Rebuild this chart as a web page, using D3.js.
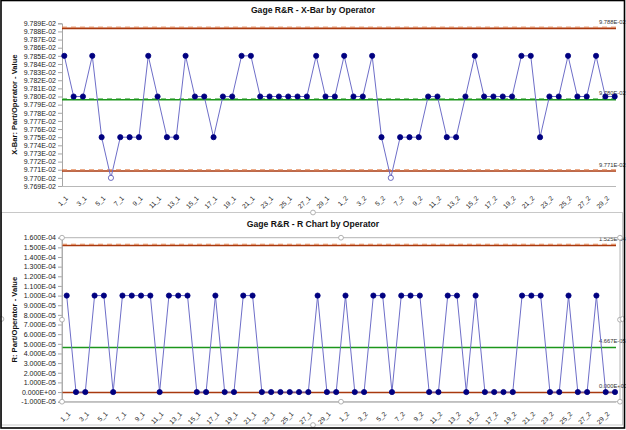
<!DOCTYPE html>
<html>
<head>
<meta charset="utf-8">
<script src="https://cdn.jsdelivr.net/npm/d3@7"></script>
<style>
  body { margin: 0; background: #fff; }
  text { font-family: "Liberation Sans", Arial, sans-serif; }
</style>
</head>
<body>
<div id="chart"></div>
<script>
// part_operator categories
var categories = [
  "1_1","2_1","3_1","4_1","5_1","6_1","7_1","8_1","9_1","10_1",
  "11_1","12_1","13_1","14_1","15_1","16_1","17_1","18_1","19_1","20_1",
  "21_1","22_1","23_1","24_1","25_1","26_1","27_1","28_1","29_1","30_1",
  "1_2","2_2","3_2","4_2","5_2","6_2","7_2","8_2","9_2","10_2",
  "11_2","12_2","13_2","14_2","15_2","16_2","17_2","18_2","19_2","20_2",
  "21_2","22_2","23_2","24_2","25_2","26_2","27_2","28_2","29_2","30_2"
];

// x-bar per part/operator
var xbarValues = [
  0.09785,0.09780,0.09780,0.09785,0.09775,0.09770,0.09775,0.09775,0.09775,0.09785,
  0.09780,0.09775,0.09775,0.09785,0.09780,0.09780,0.09775,0.09780,0.09780,0.09785,
  0.09785,0.09780,0.09780,0.09780,0.09780,0.09780,0.09780,0.09785,0.09780,0.09780,
  0.09785,0.09780,0.09780,0.09785,0.09775,0.09770,0.09775,0.09775,0.09775,0.09780,
  0.09780,0.09775,0.09775,0.09780,0.09785,0.09780,0.09780,0.09780,0.09780,0.09785,
  0.09785,0.09775,0.09780,0.09780,0.09785,0.09780,0.09780,0.09785,0.09780,0.09780
];

// range per part/operator
var rangeValues = [
  0.0001,0,0,0.0001,0.0001,0,0.0001,0.0001,0.0001,0.0001,
  0,0.0001,0.0001,0.0001,0,0,0.0001,0,0,0.0001,
  0.0001,0,0,0,0,0,0,0.0001,0,0,
  0.0001,0,0,0.0001,0.0001,0,0.0001,0.0001,0.0001,0,
  0,0.0001,0.0001,0,0.0001,0,0,0,0,0.0001,
  0.0001,0.0001,0,0,0.0001,0,0,0.0001,0,0
];

// control limits [UCL, CL, LCL]
var xbarLimits = [0.0978844, 0.0977967, 0.0977090];
var rangeLimits = [0.00015247, 0.00004667, 0];

var xbarTicks = [0.09769,0.09770,0.09771,0.09772,0.09773,0.09774,0.09775,0.09776,0.09777,
  0.09778,0.09779,0.09780,0.09781,0.09782,0.09783,0.09784,0.09785,0.09786,0.09787,0.09788,0.09789];
var rangeTicks = [-0.00001,0,0.00001,0.00002,0.00003,0.00004,0.00005,0.00006,0.00007,0.00008,
  0.00009,0.0001,0.00011,0.00012,0.00013,0.00014,0.00015,0.00016];

var W = 626, H = 430;

// 9.785E-02 style labels
function sci(d) {
  var s = d.toExponential(3).split("e");
  var e = +s[1];
  return s[0] + "E" + (e < 0 ? "-" : "+") + String(Math.abs(e)).padStart(2, "0");
}

var svg = d3.select("#chart").append("svg")
  .attr("width", W)
  .attr("height", H);

svg.append("rect").attr("width", W).attr("height", H).attr("fill", "#fff");

function drawChart(c) {
  var g = svg.append("g");

  var y = d3.scaleLinear()
    .domain([d3.min(c.ticks), d3.max(c.ticks)])
    .range([c.bottom, c.top]);

  var x = d3.scalePoint()
    .domain(categories)
    .range([c.x0, c.x1]);

  // title
  g.append("text")
    .attr("x", 313)
    .attr("y", c.titleY)
    .attr("text-anchor", "middle")
    .attr("font-size", "8.6px")
    .attr("font-weight", "bold")
    .attr("fill", "#111")
    .text(c.title);

  // y axis title
  g.append("text")
    .attr("transform", "translate(17," + ((c.top + c.bottom) / 2) + ") rotate(-90)")
    .attr("text-anchor", "middle")
    .attr("font-size", "7.6px")
    .attr("font-weight", "bold")
    .attr("fill", "#111")
    .text(c.yTitle);

  // y axis
  var yAxis = g.append("g")
    .attr("transform", "translate(62,0)")
    .call(d3.axisLeft(y).tickValues(c.ticks).tickFormat(sci).tickSize(4).tickPadding(2));
  yAxis.select(".domain").attr("stroke", "#a6a6a6");
  yAxis.selectAll(".tick line").attr("stroke", "#a6a6a6");
  yAxis.selectAll("text").attr("font-size", "7px").attr("fill", "#222")
    .attr("font-family", "'Liberation Sans', Arial, sans-serif");

  // x axis
  g.append("line")
    .attr("x1", 62).attr("x2", 616)
    .attr("y1", c.bottom + 0.5).attr("y2", c.bottom + 0.5)
    .attr("stroke", "#b8b8b8");

  var xAxis = g.append("g")
    .attr("transform", "translate(0," + c.bottom + ")")
    .attr("opacity", 0.999)
    .call(d3.axisBottom(x).tickValues(categories.filter(function(d, i) { return i % 2 === 0; })).tickSize(0));
  xAxis.select(".domain").remove();
  xAxis.selectAll("text")
    .attr("x", 0).attr("y", 0).attr("dy", "0.35em")
    .attr("text-anchor", "end")
    .attr("transform", "translate(2,11) rotate(-45)")
    .attr("font-size", "6.6px")
    .attr("fill", "#222")
    .attr("font-family", "'Liberation Sans', Arial, sans-serif");

  // control limit lines
  c.limits.forEach(function(v, i) {
    var ly = y(v);
    var dark = i === 1 ? "#1c961c" : "#a8390f";
    var light = i === 1 ? "#86c786" : "#e2804e";
    g.append("line")
      .attr("x1", 62).attr("x2", 616)
      .attr("y1", ly + 0.5).attr("y2", ly + 0.5)
      .attr("stroke", dark).attr("stroke-width", 1.6);
    if (c.dashed[i]) {
      g.append("line")
        .attr("x1", 62).attr("x2", 616)
        .attr("y1", ly - 0.7).attr("y2", ly - 0.7)
        .attr("stroke", light).attr("stroke-width", 1)
        .attr("stroke-dasharray", "5,4");
    }
    g.append("text")
      .attr("x", 599)
      .attr("y", ly - 4)
      .attr("font-size", "5.8px")
      .attr("fill", "#333")
      .text(sci(v));
  });

  // data line
  var line = d3.line()
    .x(function(d, i) { return x(categories[i]); })
    .y(function(d) { return y(d); });

  g.append("path")
    .datum(c.values)
    .attr("d", line)
    .attr("fill", "none")
    .attr("stroke", "#6e6ec8")
    .attr("stroke-width", 1);

  g.selectAll("circle.pt")
    .data(c.values)
    .enter()
    .append("circle")
    .attr("class", "pt")
    .attr("cx", function(d, i) { return x(categories[i]); })
    .attr("cy", function(d) { return y(d); })
    .attr("r", 2.6)
    .attr("fill", function(d) { return d < c.limits[2] - 1e-9 ? "#fff" : "#000080"; })
    .attr("stroke", function(d) { return d < c.limits[2] - 1e-9 ? "#4a4ab0" : "#000080"; })
    .attr("stroke-width", 0.8);

  return y;
}

// top chart
drawChart({
  title: "Gage R&R - X-Bar by Operator",
  titleY: 12.5,
  yTitle: "X-Bar: Part/Operator - Value",
  top: 23.3, bottom: 186,
  x0: 64.3, x1: 614.7,
  ticks: xbarTicks,
  values: xbarValues,
  limits: xbarLimits,
  dashed: [true, true, true]
});

// separator / selected chart area of the bottom chart
svg.append("rect")
  .attr("x", 1.5).attr("y", 212.5)
  .attr("width", 621).attr("height", 212.5)
  .attr("fill", "#fff")
  .attr("stroke", "#c8c8c8");

// bottom chart
drawChart({
  title: "Gage R&R - R Chart by Operator",
  titleY: 226.5,
  yTitle: "R: Part/Operator - Value",
  top: 237.7, bottom: 401.7,
  x0: 66.7, x1: 615,
  ticks: rangeTicks,
  values: rangeValues,
  limits: rangeLimits,
  dashed: [true, false, false]
});

// plot area selection frame
svg.append("rect")
  .attr("x", 62).attr("y", 237.7)
  .attr("width", 558).attr("height", 164)
  .attr("fill", "none")
  .attr("stroke", "#b4b4b4");

var handles = [
  [62, 237.7], [341, 237.7], [620, 237.7],
  [62, 319.7], [620, 319.7],
  [62, 401.7], [341, 401.7], [620, 401.7],
  [313, 212.5], [313, 425], [1.5, 319], [622.5, 319]
];
svg.selectAll("circle.handle")
  .data(handles)
  .enter()
  .append("circle")
  .attr("class", "handle")
  .attr("cx", function(d) { return d[0]; })
  .attr("cy", function(d) { return d[1]; })
  .attr("r", 2.4)
  .attr("fill", "#fff")
  .attr("stroke", "#a0a0a0")
  .attr("stroke-width", 0.8);

// screenshot frame
svg.append("rect")
  .attr("x", 1).attr("y", 0.5)
  .attr("width", 623.5).attr("height", 427.5)
  .attr("fill", "none")
  .attr("stroke", "#000")
  .attr("stroke-width", 1.6);
</script>
</body>
</html>
